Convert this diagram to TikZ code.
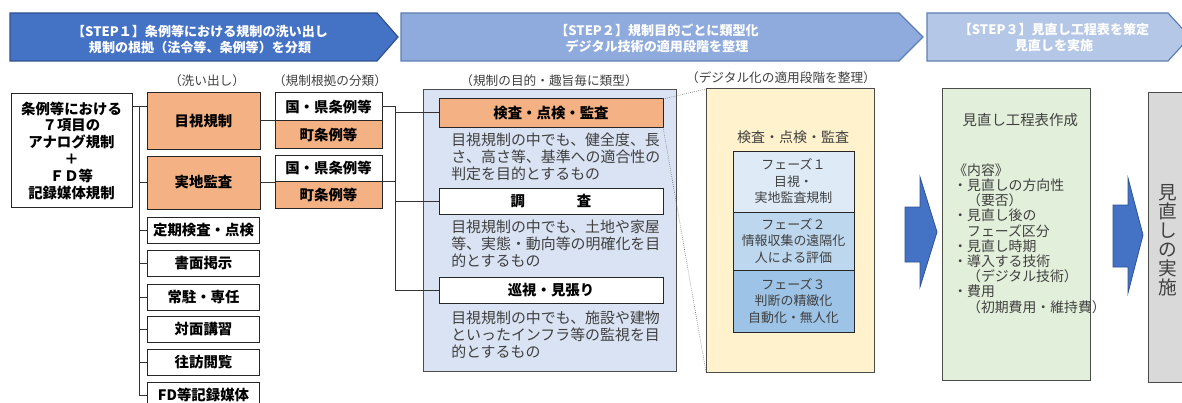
\documentclass[tikz,border=0pt]{standalone}
\usepackage{fontspec}
\setmainfont{Noto Sans CJK JP}
\usetikzlibrary{calc}
\newcommand\myfs[2]{\fontsize{#1}{#2}\selectfont}
\definecolor{orF}{HTML}{F4B183}
\definecolor{midF}{HTML}{DAE3F3}
\definecolor{yelF}{HTML}{FFF2CC}
\definecolor{grnF}{HTML}{E2EFDA}
\definecolor{gryF}{HTML}{D9D9D9}
\definecolor{phA}{HTML}{DEEBF7}
\definecolor{phB}{HTML}{BDD7EE}
\definecolor{phC}{HTML}{9DC3E6}
\definecolor{bnA}{HTML}{4472C4}
\definecolor{bnB}{HTML}{8FAADC}
\definecolor{bnC}{HTML}{B4C7E7}
\definecolor{bnD}{HTML}{2F528F}
\definecolor{bnE}{HTML}{5F7FB0}
\definecolor{txtG}{HTML}{404040}
\begin{document}
\begin{tikzpicture}[x=0.75pt,y=-0.75pt,
  pos/.style n args={4}{at={(#1,#2)},minimum width=#3*0.75pt,minimum height=#4*0.75pt,inner sep=0pt,outer sep=0pt},
  lbox/.style={draw=black!85,line width=0.75pt,align=center,text=black,font=\myfs{10.8}{12.6}\bfseries},
  orange/.style={fill=orF},
  wbox/.style={fill=white},
  lbl/.style={text=txtG,font=\myfs{9.5}{11}},
  desc/.style={anchor=west,align=left,inner sep=0pt,text=txtG,font=\myfs{11.2}{12.8}},
  conn/.style={draw=black!80,line width=0.75pt},
  dotl/.style={draw=black!55,line width=0.5pt,densely dotted},
  panel/.style={draw=black!70,line width=0.75pt},
  ban/.style={line width=0.9pt},
  bantext/.style={text=white,align=center,font=\myfs{9.8}{11.5}\bfseries},
  phase/.style={draw=black!85,line width=0.75pt,align=center,text=txtG,font=\myfs{9.7}{12.4}},
  barrow/.style={fill=bnA,draw=bnD,line width=0.6pt},
]
\useasboundingbox (0,0) rectangle (1182,403);
\fill[white] (0,0) rectangle (1182,403);

% banners
\draw[ban,fill=bnA,draw=bnD] (10,13) -- (377,13) -- (398,37) -- (377,61) -- (10,61) -- cycle;
\node[bantext] (b1) at (200,39.5) {【STEP１】条例等における規制の洗い出し\\規制の根拠（法令等、条例等）を分類};
\draw[ban,fill=bnB,draw=bnE] (401,13) -- (899,13) -- (923,37) -- (899,61) -- (401,61) -- cycle;
\node[bantext] (b2) at (657,38.5) {【STEP２】規制目的ごとに類型化\\デジタル技術の適用段階を整理};
\draw[ban,fill=bnC,draw=bnE] (927,13) -- (1168,13) -- (1190,37) -- (1168,61) -- (927,61) -- cycle;
\node[bantext] (b3) at (1054,37.5) {【STEP３】見直し工程表を策定\\見直しを実施};

% labels
\node[lbl] (l1) at (207,81) {（洗い出し）};
\node[lbl] (l2) at (330,81) {（規制根拠の分類）};
\node[lbl] (l3) at (549,81) {（規制の目的・趣旨毎に類型）};
\node[lbl] (l4) at (781,78) {（デジタル化の適用段階を整理）};

% left column
\node[lbox,wbox,pos={71.5}{150.5}{121}{113}] (src) {条例等における\\７項目の\\アナログ規制\\＋\\ＦＤ等\\記録媒体規制};
\node[lbox,orange,pos={203.5}{121}{113}{56}] (mk) {目視規制};
\node[lbox,orange,pos={203.5}{182.5}{113}{53}] (jc) {実地監査};
\node[lbox,wbox,pos={203.5}{230}{112}{26}] (s1) {定期検査・点検};
\node[lbox,wbox,pos={203.5}{263.5}{112}{26}] (s2) {書面掲示};
\node[lbox,wbox,pos={203.5}{297}{112}{26}] (s3) {常駐・専任};
\node[lbox,wbox,pos={203.5}{329.5}{112}{26}] (s4) {対面講習};
\node[lbox,wbox,pos={203.5}{362.5}{112}{26}] (s5) {往訪閲覧};
\node[lbox,wbox,pos={203.5}{395}{112}{26}] (s6) {FD等記録媒体};

\node[lbox,wbox,pos={328.5}{107}{107}{28}] (kk1) {国・県条例等};
\node[lbox,orange,pos={328.5}{134.5}{107}{27}] (mc1) {町条例等};
\node[lbox,wbox,pos={328.5}{168}{107}{26}] (kk2) {国・県条例等};
\node[lbox,orange,pos={328.5}{194.5}{107}{27}] (mc2) {町条例等};

% left connectors
\coordinate (tA) at (139,107);
\coordinate (tB) at (139,395);
\draw[conn] (src.east |- tA) -- (mk.west |- tA);
\draw[conn] (tA) -- (tB);
\draw[conn] (jc.west) -- (jc.west -| tA);
\foreach \n in {s1,s2,s3,s4,s5,s6} {\draw[conn] (\n.west) -- (\n.west -| tA);}
\draw[conn] (mk.east) -- (mk.east -| kk1.west);
\draw[conn] (jc.east) -- (jc.east -| kk2.west);

% middle panel
\node[panel,fill=midF,pos={549.5}{230.5}{253}{281}] (mp) {};
\node[lbox,orange,pos={551}{113}{224}{28},font=\myfs{10.8}{12.6}\bfseries] (insp) {検査・点検・監査};
\node[lbox,wbox,pos={551}{201}{224}{26}] (cho) {調\hspace{3.6em}査};
\node[lbox,wbox,pos={551}{290}{224}{26}] (jun) {巡視・見張り};
\node[desc] (d1) at (451,157) {目視規制の中でも、健全度、長\\さ、高さ等、基準への適合性の\\判定を目的とするもの};
\node[desc] (d2) at (451,244) {目視規制の中でも、土地や家屋\\等、実態・動向等の明確化を目\\的とするもの};
\node[desc] (d3) at (451,335) {目視規制の中でも、施設や建物\\といったインフラ等の監視を目\\的とするもの};

% right trunk
\coordinate (rA) at (395,107);
\draw[conn] (kk1.east) -- (rA) -- (rA |- jun.west) -- (jun.west);
\draw[conn] (kk2.south east) -- (kk2.south east -| rA);
\draw[conn] (rA |- insp.west) -- (insp.west);
\draw[conn] (rA |- cho.west) -- (cho.west);

% yellow panel
\node[panel,fill=yelF,pos={790}{230.5}{168}{283}] (yp) {};
\draw[dotl] (insp.north east) -- (yp.north west);
\draw[dotl] (insp.south east) -- (yp.south west);
\node[text=txtG,font=\myfs{10.5}{12}] (ypt) at (793,137) {検査・点検・監査};
\node[phase,fill=phA,pos={793.5}{181.5}{121}{61}] (p1) {フェーズ１\\目視・\\実地監査規制};
\node[phase,fill=phB,pos={793.5}{241}{121}{58}] (p2) {フェーズ２\\情報収集の遠隔化\\人による評価};
\node[phase,fill=phC,pos={793.5}{301}{121}{62}] (p3) {フェーズ３\\判断の精緻化\\自動化・無人化};

% arrows
\draw[barrow] (905,207) -- (920,207) -- (920,177) -- (937,232) -- (920,287) -- (920,262) -- (905,262) -- cycle;
\draw[barrow] (1113,205) -- (1128,205) -- (1128,178) -- (1143,235) -- (1128,293) -- (1128,267) -- (1113,267) -- cycle;

% green panel
\node[panel,fill=grnF,pos={1016}{234.5}{148}{291}] (gp) {};
\node[anchor=west,text=txtG,font=\myfs{10.8}{12}] (g1) at (958,120) {見直し工程表作成};
\node[anchor=west,align=left,text=txtG,font=\myfs{10.4}{11.4},inner sep=0pt] (g2) at (953,238.5) {《内容》\\・見直しの方向性\\　（要否）\\・見直し後の\\　フェーズ区分\\・見直し時期\\・導入する技術\\　（デジタル技術）\\・費用\\　（初期費用・維持費）};

% grey panel
\node[panel,fill=gryF,pos={1172}{237.5}{48}{289}] (rp) {};
\node[align=center,text=txtG,font=\myfs{14}{14.3}] (rv) at (1168,240) {見\\直\\し\\の\\実\\施};
\end{tikzpicture}
\end{document}
